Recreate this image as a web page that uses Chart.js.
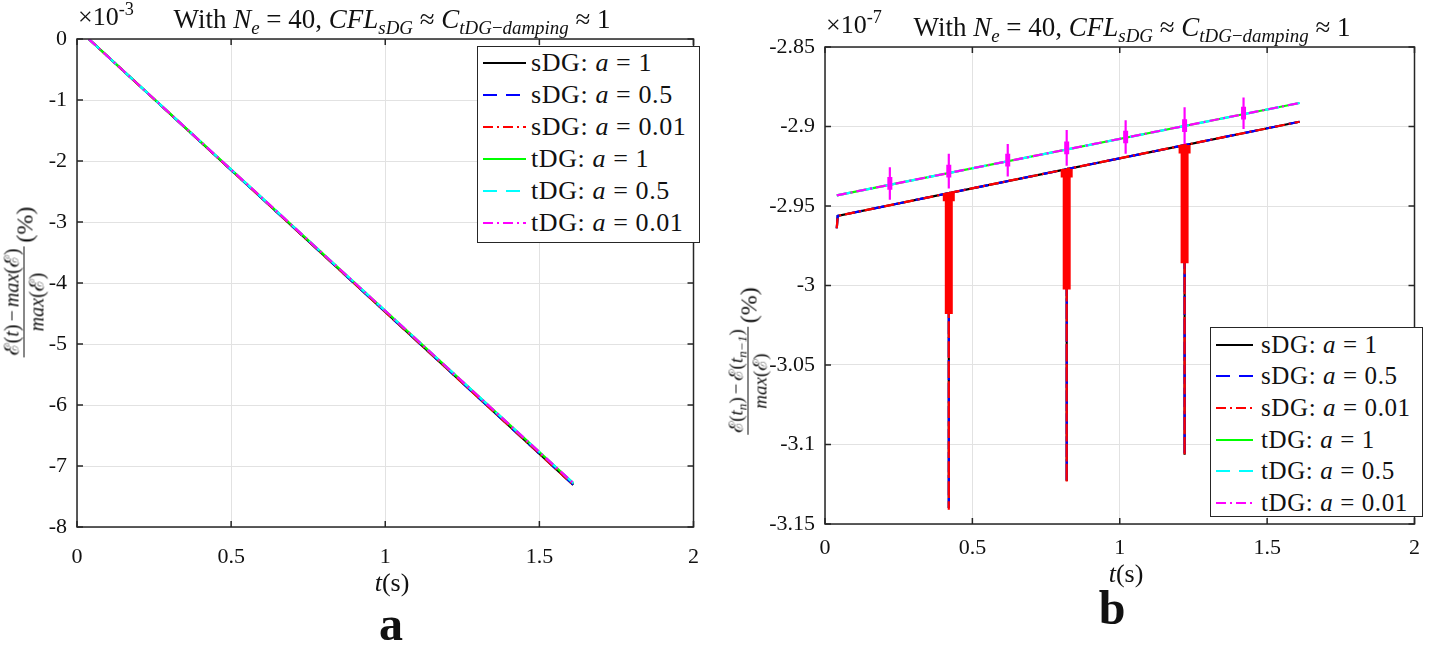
<!DOCTYPE html>
<html>
<head>
<meta charset="utf-8">
<script src="https://cdn.jsdelivr.net/npm/chart.js@4.4.0/dist/chart.umd.min.js"></script>
<style>
  body { margin:0; width:1431px; height:649px; background:#fff; position:relative; overflow:hidden;
         font-family:"Liberation Serif","Times New Roman",serif; color:#111; }
  canvas { position:absolute; top:0; }
  .abs { position:absolute; white-space:nowrap; line-height:1; }
  sub, sup { font-size:70%; line-height:0; }
  sub { vertical-align:-0.3em; }
  sup { vertical-align:0.55em; }
  .title { font-size:27px; transform:translateX(-50%); }
  .expo { font-size:26px; }
  .xtitle { font-size:26px; transform:translate(-50%,-50%); }
  .cap { font-size:48px; font-weight:bold; transform:translate(-50%,-50%); }
  .ytitle { display:flex; align-items:center; font-size:24px; transform:translate(-50%,-50%) rotate(-90deg); }
  .frac { display:inline-flex; flex-direction:column; align-items:center; margin-right:4px; }
  .num { border-bottom:1.3px solid #111; padding:0 2px 2px; }
  .den { padding-top:2px; }
  .op { margin:0 3px; }
  .legend { position:absolute; background:#fff; border:1.5px solid #262626; box-sizing:border-box; }
  .row { display:flex; align-items:center; white-space:nowrap; }
  .row svg { flex:none; }
  .row span { letter-spacing:0.6px; }
</style>
</head>
<body>
<canvas id="chartA" width="716" height="649" style="left:0px"></canvas>
<canvas id="chartB" width="715" height="649" style="left:716px"></canvas>

<div class="abs expo" style="left:78px; top:4px;">×10<sup>-3</sup></div>
<div class="abs title" style="left:392px; top:6px;">With <i>N</i><sub><i>e</i></sub> = 40, <i>CFL</i><sub><i>sDG</i></sub> ≈ <i>C</i><sub><i>tDG</i>−<i>damping</i></sub> ≈ 1</div>
<div class="abs expo" style="left:826px; top:12px;">×10<sup>-7</sup></div>
<div class="abs title" style="left:1132px; top:14px;">With <i>N</i><sub><i>e</i></sub> = 40, <i>CFL</i><sub><i>sDG</i></sub> ≈ <i>C</i><sub><i>tDG</i>−<i>damping</i></sub> ≈ 1</div>

<div class="abs ytitle" style="left:24px; top:282px;"><span class="frac" style="font-size:20px"><span class="num">ℰ(<i>t</i>)<span class="op">−</span><i>max</i>(ℰ)</span><span class="den"><i>max</i>(ℰ)</span></span><span>(%)</span></div>
<div class="abs ytitle" style="left:748px; top:361px;"><span class="frac" style="font-size:19px"><span class="num">ℰ(<i>t<sub>n</sub></i>)<span class="op">−</span>ℰ(<i>t<sub>n−1</sub></i>)</span><span class="den"><i>max</i>(ℰ)</span></span><span>(%)</span></div>

<div class="abs xtitle" style="left:392px; top:583px;"><i>t</i>(s)</div>
<div class="abs xtitle" style="left:1126px; top:574px;"><i>t</i>(s)</div>
<div class="abs cap" style="left:391px; top:624px;">a</div>
<div class="abs cap" style="left:1112px; top:608px;">b</div>

<div id="legendA" class="legend" style="left:477px; top:46px; width:223px; height:197px; padding-top:0px;"></div>
<div id="legendB" class="legend" style="left:1210px; top:327px; width:213px; height:190px; padding-top:1px;"></div>

<script>
// ---------------- data ----------------
const xTicks = [0, 0.5, 1, 1.5, 2];
const xTickLabels = ['0', '0.5', '1', '1.5', '2'];
const yTicksA = [0, -1, -2, -3, -4, -5, -6, -7, -8];
const yTickLabelsA = ['0', '-1', '-2', '-3', '-4', '-5', '-6', '-7', '-8'];
const yTicksB = [-2.85, -2.9, -2.95, -3, -3.05, -3.1, -3.15];
const yTickLabelsB = ['-2.85', '-2.9', '-2.95', '-3', '-3.05', '-3.1', '-3.15'];

const seriesMethod = ['sDG', 'sDG', 'sDG', 'tDG', 'tDG', 'tDG'];
const seriesA = ['1', '0.5', '0.01', '1', '0.5', '0.01'];

// panel a : relative energy (x10^-3 %)
const timeA = [0.038, 1.61];
const sdgA_1 = [0, -7.31];
const sdgA_05 = [0, -7.31];
const sdgA_001 = [0, -7.31];
const tdgA_1 = [0, -7.28];
const tdgA_05 = [0, -7.28];
const tdgA_001 = [0, -7.28];

// panel b : energy increment (x10^-7 %)
const timeB_s = [0.040, 0.043, 0.42, 0.42, 0.42, 0.82, 0.82, 0.82, 1.22, 1.22, 1.22, 1.61];
const sdgB_1 = [-2.964, -2.9562, -2.9419, -3.140, -2.9419, -2.9268, -3.123, -2.9268, -2.9117, -3.1065, -2.9117, -2.8970];
const sdgB_05 = [-2.964, -2.9562, -2.9419, -3.140, -2.9419, -2.9268, -3.123, -2.9268, -2.9117, -3.1065, -2.9117, -2.8970];
const sdgB_001 = [-2.964, -2.9562, -2.9419, -3.141, -2.9419, -2.9268, -3.124, -2.9268, -2.9117, -3.107, -2.9117, -2.8970];
const timeB_t = [0.040, 1.61];
const tdgB_1 = [-2.9433, -2.8852];
const tdgB_05 = [-2.9433, -2.8852];
const tdgB_001 = [-2.9433, -2.8852];

// dense oscillation bands of sDG (a = 0.01)
const bandT = [0.42, 0.82, 1.22];
const bandTop = [-2.9419, -2.9268, -2.9117];
const bandBottom = [-3.018, -3.0025, -2.986];
const bandFlareBottom = [-2.947, -2.932, -2.917];

// oscillation bursts of tDG (a = 0.01)
const burstT = [0.22, 0.42, 0.62, 0.82, 1.02, 1.22, 1.42];
const burstHi = [-2.9257, -2.9172, -2.9110, -2.9022, -2.8960, -2.8879, -2.8817];
const burstLo = [-2.9460, -2.9390, -2.9315, -2.9247, -2.9172, -2.9110, -2.9016];
const burstCoreHi = [-2.9318, -2.9241, -2.9172, -2.9094, -2.9026, -2.8954, -2.8876];
const burstCoreLo = [-2.9398, -2.9321, -2.9252, -2.9174, -2.9106, -2.9034, -2.8956];

// ---------------- styles ----------------
const lineColors = ['#000000', '#0000ff', '#ff0000', '#00ff00', '#00ffff', '#ff00ff'];
const lineDashes = [[], [14, 9], [10, 4, 2, 4], [], [14, 9], [10, 4, 2, 4]];
const LW = 2.2;
const SERIF = 'Liberation Serif';

// ---------------- helpers ----------------
const pts = (ts, vs) => ts.map((t, i) => ({ x: t, y: vs[i] }));
const segs = (ts, hi, lo) => {
  const out = [];
  ts.forEach((t, i) => { out.push({ x: t, y: hi[i] }, { x: t, y: lo[i] }, { x: t, y: null }); });
  return out;
};
const labelFor = (vals, labels) => (v) => {
  const i = vals.findIndex(u => Math.abs(u - v) < 1e-9);
  return i >= 0 ? labels[i] : '';
};
const seriesDS = (k, data) => ({
  label: seriesMethod[k] + ': a = ' + seriesA[k],
  data, borderColor: lineColors[k], borderDash: lineDashes[k], borderWidth: LW,
  pointRadius: 0, fill: false, spanGaps: false
});
const extraDS = (data, color, width) => ({
  label: '', data, borderColor: color, borderWidth: width, pointRadius: 0, fill: false, spanGaps: false,
  borderCapStyle: 'butt'
});

const boxPlugin = {
  id: 'box',
  afterDraw(chart) {
    const { ctx, chartArea: a, scales: { x, y } } = chart;
    ctx.save();
    ctx.strokeStyle = '#262626';
    ctx.lineWidth = 1.5;
    ctx.setLineDash([]);
    ctx.strokeRect(a.left, a.top, a.right - a.left, a.bottom - a.top);
    ctx.beginPath();
    x.ticks.forEach(t => {
      const p = x.getPixelForValue(t.value);
      ctx.moveTo(p, a.bottom); ctx.lineTo(p, a.bottom - 6);
      ctx.moveTo(p, a.top); ctx.lineTo(p, a.top + 6);
    });
    y.ticks.forEach(t => {
      const p = y.getPixelForValue(t.value);
      ctx.moveTo(a.left, p); ctx.lineTo(a.left + 6, p);
      ctx.moveTo(a.right, p); ctx.lineTo(a.right - 6, p);
    });
    ctx.stroke();
    ctx.restore();
  }
};

function makeChart(id, datasets, opt) {
  datasets.forEach((d, i) => { d.order = datasets.length - 1 - i; });
  const tickFont = { family: SERIF, size: 22, style: 'normal', weight: 'normal' };
  return new Chart(document.getElementById(id), {
    type: 'line',
    data: { datasets },
    options: {
      responsive: false, animation: false, devicePixelRatio: 1,
      font: tickFont,
      layout: { padding: { top: opt.top, right: opt.right, left: 0, bottom: 0 } },
      plugins: { legend: { display: false }, tooltip: { enabled: false }, title: { display: false } },
      elements: { line: { tension: 0 }, point: { radius: 0 } },
      scales: {
        x: {
          type: 'linear', min: 0, max: 2,
          afterBuildTicks: s => { s.ticks = xTicks.map(v => ({ value: v })); },
          afterFit: s => { s.height = opt.xh; },
          grid: { color: '#e2e2e2', lineWidth: 1, drawTicks: false },
          border: { display: false },
          ticks: { autoSkip: false, maxRotation: 0, padding: opt.xpad, color: '#111', font: tickFont,
                   callback: labelFor(xTicks, xTickLabels) }
        },
        y: {
          type: 'linear', min: opt.ymin, max: opt.ymax,
          afterBuildTicks: s => { s.ticks = opt.yTicks.slice().sort((a, b) => a - b).map(v => ({ value: v })); },
          afterFit: s => { s.width = opt.yw; },
          grid: { color: '#e2e2e2', lineWidth: 1, drawTicks: false },
          border: { display: false },
          ticks: { autoSkip: false, padding: 10, color: '#111', font: tickFont,
                   callback: labelFor(opt.yTicks, opt.yLabels) }
        }
      }
    },
    plugins: [boxPlugin]
  });
}

// panel a
const dsA = [
  seriesDS(0, pts(timeA, sdgA_1)),
  seriesDS(1, pts(timeA, sdgA_05)),
  seriesDS(2, pts(timeA, sdgA_001)),
  seriesDS(3, pts(timeA, tdgA_1)),
  seriesDS(4, pts(timeA, tdgA_05)),
  seriesDS(5, pts(timeA, tdgA_001))
];

// panel b
const dsB = [
  seriesDS(0, pts(timeB_s, sdgB_1)),
  seriesDS(1, pts(timeB_s, sdgB_05)),
  extraDS(segs(bandT, bandTop, bandBottom), '#ff0000', 8),
  extraDS(segs(bandT, bandTop, bandFlareBottom), '#ff0000', 12),
  seriesDS(2, pts(timeB_s, sdgB_001)),
  seriesDS(3, pts(timeB_t, tdgB_1)),
  seriesDS(4, pts(timeB_t, tdgB_05)),
  seriesDS(5, pts(timeB_t, tdgB_001)),
  extraDS(segs(burstT, burstHi, burstLo), '#ff00ff', 2.2),
  extraDS(segs(burstT, burstCoreHi, burstCoreLo), '#ff00ff', 5)
];

makeChart('chartA', dsA, {
  top: 39, right: 10, xh: 649 - 527, yw: 77, xpad: 17, ymin: -8, ymax: 0,
  yTicks: yTicksA, yLabels: yTickLabelsA
});
makeChart('chartB', dsB, {
  top: 47, right: 3, xh: 649 - 524, yw: 109, xpad: 11, ymin: -3.15, ymax: -2.85,
  yTicks: yTicksB, yLabels: yTickLabelsB
});

// ---------------- HTML legends ----------------
function buildLegend(elId, sampleW, rowH, fontSize, gap) {
  const el = document.getElementById(elId);
  seriesMethod.forEach((m, k) => {
    const row = document.createElement('div');
    row.className = 'row';
    row.style.height = rowH + 'px';
    row.style.fontSize = fontSize + 'px';
    row.style.paddingLeft = '5px';
    row.innerHTML =
      `<svg width="${sampleW}" height="8"><line x1="0" y1="4" x2="${sampleW}" y2="4" stroke="${lineColors[k]}" stroke-width="${LW}" stroke-dasharray="${lineDashes[k].join(' ') || 'none'}"/></svg>` +
      `<span style="margin-left:${gap}px">${m}: <i>a</i> = ${seriesA[k]}</span>`;
    el.appendChild(row);
  });
}
buildLegend('legendA', 43, 32, 26, 5);
buildLegend('legendB', 37, 31.6, 25, 8);
</script>
</body>
</html>
